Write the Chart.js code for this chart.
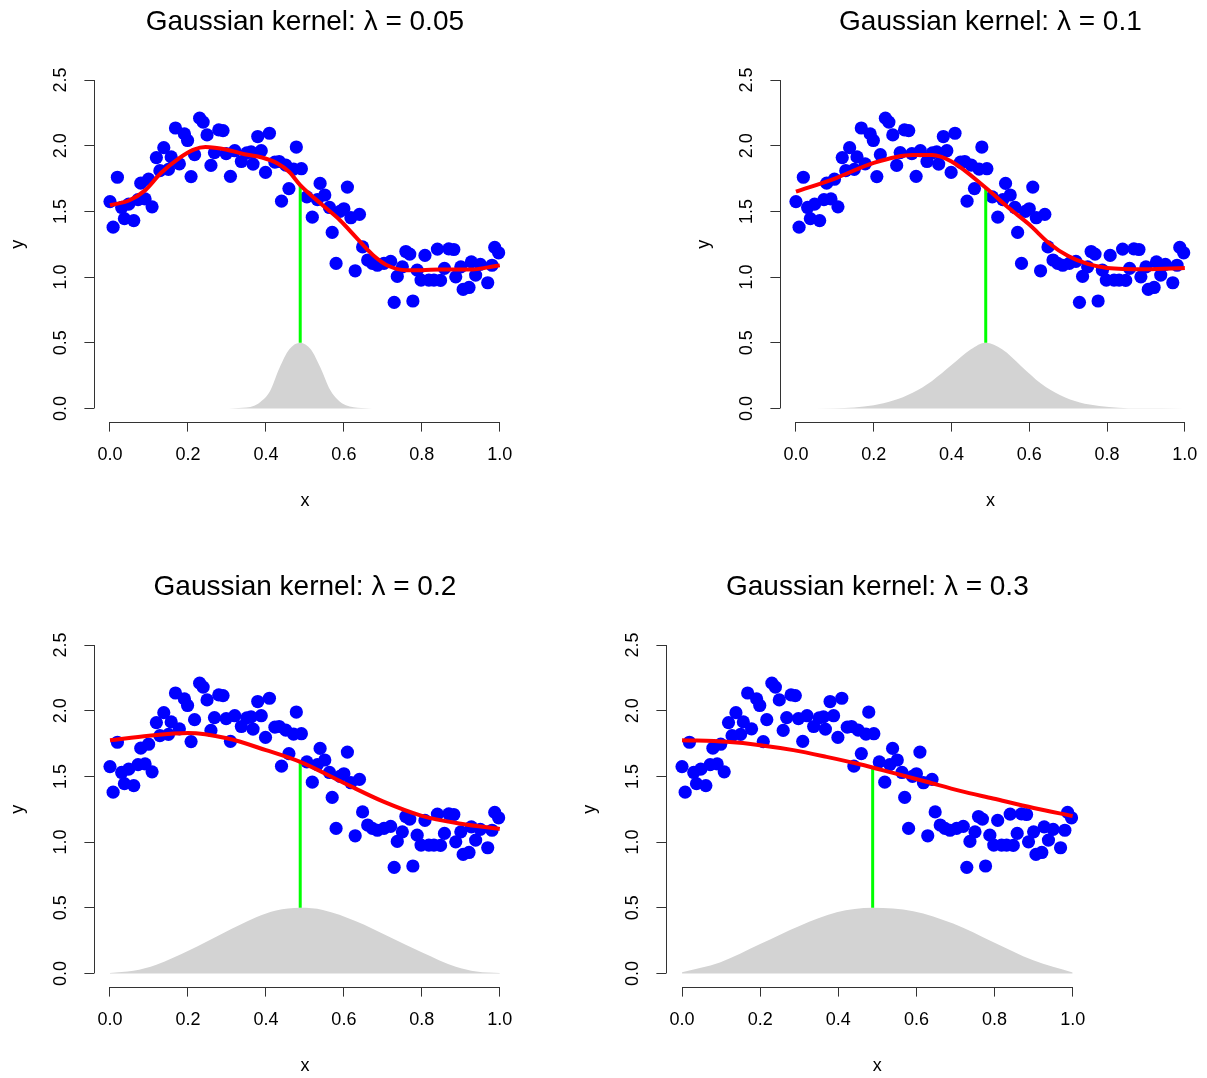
<!DOCTYPE html>
<html>
<head>
<meta charset="utf-8">
<title>Gaussian kernel smoothing</title>
<script src="https://cdn.jsdelivr.net/npm/chart.js@4.4.0/dist/chart.umd.min.js"></script>
<style>
  body { margin: 0; background: #fff; }
  #wrap { position: relative; width: 1207px; height: 1078px; overflow: hidden; background: #fff; }
  #wrap canvas { position: absolute; }
</style>
</head>
<body>
<div id="wrap">
  <canvas id="c1" width="522" height="513" style="left:0px;top:0px"></canvas>
  <canvas id="c2" width="521" height="513" style="left:686px;top:0px"></canvas>
  <canvas id="c3" width="522" height="513" style="left:0px;top:565px"></canvas>
  <canvas id="c4" width="530" height="513" style="left:572px;top:565px"></canvas>
</div>
<script>
// observed sample (same in every panel)
const ptX = [0.000, 0.008, 0.019, 0.030, 0.037, 0.048, 0.061, 0.072, 0.079, 0.090,
             0.099, 0.108, 0.119, 0.128, 0.138, 0.150, 0.157, 0.168, 0.178, 0.191,
             0.199, 0.208, 0.217, 0.230, 0.239, 0.249, 0.259, 0.268, 0.279, 0.290,
             0.298, 0.309, 0.320, 0.337, 0.351, 0.362, 0.367, 0.379, 0.388, 0.399,
             0.409, 0.423, 0.434, 0.440, 0.451, 0.459, 0.471, 0.478, 0.491, 0.505,
             0.519, 0.532, 0.539, 0.551, 0.563, 0.570, 0.580, 0.590, 0.600, 0.609,
             0.618, 0.629, 0.640, 0.648, 0.661, 0.673, 0.686, 0.703, 0.720, 0.729,
             0.737, 0.750, 0.759, 0.769, 0.777, 0.788, 0.798, 0.808, 0.818, 0.831,
             0.840, 0.848, 0.858, 0.869, 0.882, 0.887, 0.900, 0.906, 0.921, 0.927,
             0.938, 0.950, 0.969, 0.980, 0.987, 0.997];
const ptY = [1.575, 1.380, 1.760, 1.530, 1.445, 1.555, 1.430, 1.590, 1.715, 1.595,
             1.745, 1.535, 1.910, 1.810, 1.985, 1.820, 1.915, 2.135, 1.862, 2.090,
             2.040, 1.765, 1.932, 2.210, 2.180, 2.082, 1.850, 1.948, 2.120, 2.115,
             1.940, 1.767, 1.962, 1.880, 1.945, 1.953, 1.860, 2.070, 1.962, 1.797,
             2.095, 1.875, 1.880, 1.578, 1.852, 1.674, 1.822, 1.990, 1.825, 1.610,
             1.456, 1.590, 1.713, 1.625, 1.530, 1.340, 1.104, 1.500, 1.520, 1.685,
             1.452, 1.048, 1.478, 1.230, 1.130, 1.104, 1.090, 1.104, 1.120, 0.808,
             1.005, 1.078, 1.195, 1.175, 0.818, 1.053, 0.977, 1.165, 0.977, 0.977,
             1.213, 0.975, 1.066, 1.215, 1.210, 1.002, 1.078, 0.906, 0.921, 1.116,
             1.015, 1.097, 0.957, 1.090, 1.226, 1.185];

const xTicks = [0, 0.2, 0.4, 0.6, 0.8, 1.0];
const yTicks = [0, 0.5, 1.0, 1.5, 2.0, 2.5];
const lambdas = ['0.05', '0.1', '0.2', '0.3'];
const target = 0.488;

// smoothed curves
const fit1X = [0, 0.05, 0.09, 0.13, 0.175, 0.215, 0.245, 0.30, 0.345, 0.39, 0.43, 0.46, 0.488, 0.545, 0.59, 0.63, 0.675, 0.715, 0.76, 0.80, 0.845, 0.885, 0.93, 0.97, 1.0];
const fit1Y = [1.547, 1.585, 1.66, 1.79, 1.90, 1.97, 1.99, 1.97, 1.935, 1.91, 1.865, 1.80, 1.70, 1.548, 1.433, 1.307, 1.167, 1.084, 1.053, 1.053, 1.058, 1.058, 1.058, 1.074, 1.089];
const fit2X = [0, 0.1, 0.2, 0.3, 0.35, 0.4, 0.488, 0.55, 0.6, 0.65, 0.7, 0.75, 0.8, 0.9, 1.0];
const fit2Y = [1.65, 1.75, 1.87, 1.93, 1.93, 1.88, 1.68, 1.52, 1.40, 1.26, 1.16, 1.10, 1.07, 1.06, 1.07];
const fit3X = [0, 0.1, 0.2, 0.3, 0.4, 0.488, 0.6, 0.7, 0.8, 0.9, 1.0];
const fit3Y = [1.775, 1.81, 1.83, 1.79, 1.70, 1.61, 1.45, 1.31, 1.20, 1.14, 1.10];
const fit4X = [0, 0.114, 0.2, 0.285, 0.37, 0.455, 0.54, 0.626, 0.712, 0.796, 0.9, 1.0];
const fit4Y = [1.776, 1.763, 1.738, 1.70, 1.649, 1.593, 1.527, 1.459, 1.39, 1.332, 1.26, 1.198];

// kernel weights drawn at the bottom
const kern1X = [0, 0.28, 0.33, 0.37, 0.39, 0.41, 0.435, 0.46, 0.488, 0.515, 0.54, 0.565, 0.585, 0.605, 0.645, 0.70, 1.0];
const kern1Y = [0, 0, 0.004, 0.02, 0.06, 0.13, 0.31, 0.45, 0.5, 0.45, 0.31, 0.14, 0.065, 0.025, 0.004, 0, 0];
const kern2X = [0, 0.1, 0.15, 0.2, 0.25, 0.3, 0.35, 0.4, 0.45, 0.488, 0.53, 0.58, 0.63, 0.68, 0.73, 0.78, 0.83, 0.88, 1.0];
const kern2Y = [0, 0.002, 0.008, 0.025, 0.06, 0.12, 0.21, 0.33, 0.45, 0.5, 0.45, 0.32, 0.19, 0.1, 0.045, 0.018, 0.005, 0.001, 0];
const kern3X = [0, 0.06, 0.119, 0.205, 0.29, 0.375, 0.426, 0.488, 0.546, 0.631, 0.716, 0.801, 0.887, 0.94, 1.0];
const kern3Y = [0.004, 0.02, 0.066, 0.178, 0.306, 0.428, 0.479, 0.5, 0.484, 0.398, 0.28, 0.16, 0.051, 0.015, 0.003];
const kern4X = [0, 0.097, 0.2, 0.302, 0.396, 0.488, 0.592, 0.694, 0.796, 0.899, 1.0];
const kern4Y = [0.01, 0.084, 0.224, 0.364, 0.466, 0.5, 0.474, 0.38, 0.24, 0.1, 0.008];

// where the green segment stops (fit value at the target point)
const greenTop = [1.70, 1.68, 1.61, 1.567];

const FONT = '"Liberation Sans", Arial, Helvetica, sans-serif';
const AXIS = '#333';

function pairs(xs, ys) {
    return xs.map((v, i) => ({ x: v, y: ys[i] }));
}

// R-style detached axes + centered main title
const rAxes = {
    id: 'rAxes',
    afterDraw(chart, args, opts) {
        const { ctx, chartArea, scales } = chart;
        const x = scales.x, y = scales.y;
        ctx.save();
        ctx.strokeStyle = AXIS;
        ctx.lineWidth = 1;
        ctx.beginPath();
        const yb = Math.round(chartArea.bottom) + 0.5;
        ctx.moveTo(x.getPixelForValue(xTicks[0]), yb);
        ctx.lineTo(x.getPixelForValue(xTicks[xTicks.length - 1]), yb);
        const xl = Math.round(chartArea.left) + 0.5;
        ctx.moveTo(xl, y.getPixelForValue(yTicks[0]));
        ctx.lineTo(xl, y.getPixelForValue(yTicks[yTicks.length - 1]));
        ctx.stroke();

        ctx.fillStyle = '#000';
        ctx.font = '28px ' + FONT;
        ctx.textAlign = 'center';
        ctx.textBaseline = 'middle';
        ctx.fillText(opts.text, (chartArea.left + chartArea.right) / 2, 22);
        ctx.restore();
    }
};

function noPad(s) {
    s.paddingLeft = 0;
    s.paddingRight = 0;
    s.paddingTop = 0;
    s.paddingBottom = 0;
}

function makePanel(id, lam, fitX, fitY, kX, kY, gTop, padRight) {
    const ctx = document.getElementById(id).getContext('2d');
    return new Chart(ctx, {
        type: 'scatter',
        data: {
            datasets: [
                {
                    label: 'fit',
                    data: pairs(fitX, fitY),
                    showLine: true,
                    borderColor: '#ff0000',
                    borderWidth: 4,
                    pointRadius: 0,
                    cubicInterpolationMode: 'monotone',
                    fill: false,
                    order: 0
                },
                {
                    label: 'target',
                    data: [{ x: target, y: 0.5 }, { x: target, y: gTop }],
                    showLine: true,
                    borderColor: '#00ff00',
                    borderWidth: 3,
                    pointRadius: 0,
                    fill: false,
                    order: 1
                },
                {
                    label: 'kernel',
                    data: pairs(kX, kY),
                    showLine: true,
                    borderWidth: 0,
                    borderColor: 'rgba(0,0,0,0)',
                    backgroundColor: '#d3d3d3',
                    pointRadius: 0,
                    cubicInterpolationMode: 'monotone',
                    fill: 'origin',
                    order: 2
                },
                {
                    label: 'data',
                    data: pairs(ptX, ptY),
                    pointRadius: 6.6,
                    pointBackgroundColor: '#0000ff',
                    pointBorderWidth: 0,
                    showLine: false,
                    order: 3
                }
            ]
        },
        options: {
            responsive: false,
            animation: false,
            events: [],
            layout: { padding: { left: 0, top: 66.9, right: padRight, bottom: 0 } },
            plugins: {
                legend: { display: false },
                tooltip: { enabled: false },
                rAxes: { text: 'Gaussian kernel: \u03bb = ' + lam }
            },
            scales: {
                x: {
                    type: 'linear',
                    min: -0.04,
                    max: 1.04,
                    afterBuildTicks: s => { s.ticks = xTicks.map(v => ({ value: v })); },
                    afterFit: s => { s.height = 91.4; noPad(s); },
                    border: { display: false },
                    grid: { drawOnChartArea: false, drawTicks: true, tickLength: 10, tickColor: AXIS, lineWidth: 1 },
                    ticks: {
                        callback: v => v.toFixed(1),
                        color: '#000',
                        font: { family: FONT, size: 18 },
                        padding: 13,
                        maxRotation: 0,
                        autoSkip: false
                    },
                    title: {
                        display: true,
                        text: 'x',
                        color: '#000',
                        font: { family: FONT, size: 18 },
                        padding: { top: 0, bottom: 1 }
                    }
                },
                y: {
                    type: 'linear',
                    min: -0.1,
                    max: 2.6,
                    afterBuildTicks: s => { s.ticks = yTicks.map(v => ({ value: v })); },
                    afterFit: s => { s.width = 94.4; noPad(s); },
                    border: { display: false },
                    grid: { drawOnChartArea: false, drawTicks: true, tickLength: 10, tickColor: AXIS, lineWidth: 1 },
                    ticks: {
                        callback: v => v.toFixed(1),
                        color: '#000',
                        font: { family: FONT, size: 18 },
                        padding: 11,
                        minRotation: 90,
                        maxRotation: 90,
                        crossAlign: 'center',
                        autoSkip: false
                    },
                    title: {
                        display: true,
                        text: 'y',
                        color: '#000',
                        font: { family: FONT, size: 18 },
                        padding: { top: 7, bottom: 0 }
                    }
                }
            }
        },
        plugins: [rAxes]
    });
}

makePanel('c1', lambdas[0], fit1X, fit1Y, kern1X, kern1Y, greenTop[0], 5.7);
makePanel('c2', lambdas[1], fit2X, fit2Y, kern2X, kern2Y, greenTop[1], 4.4);
makePanel('c3', lambdas[2], fit3X, fit3Y, kern3X, kern3Y, greenTop[2], 5.7);
makePanel('c4', lambdas[3], fit4X, fit4Y, kern4X, kern4Y, greenTop[3], 13.7);
</script>
</body>
</html>
